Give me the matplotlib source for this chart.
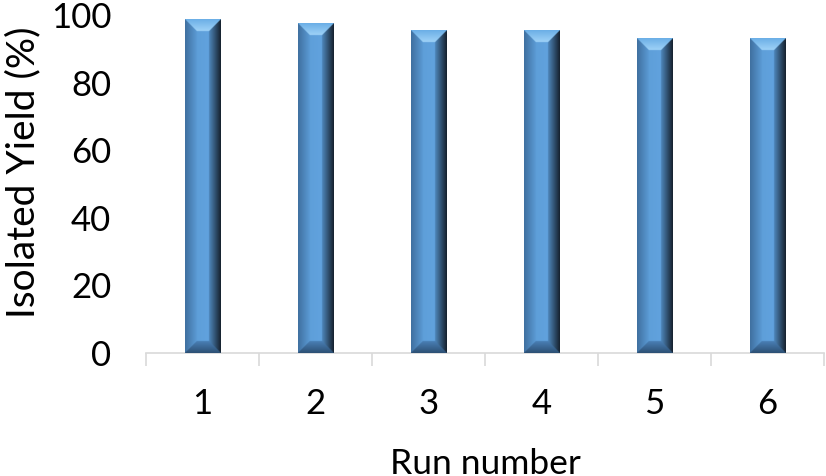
import numpy as np
import matplotlib
matplotlib.use('Agg')
from matplotlib import pyplot as plt
from matplotlib.colors import to_rgb

# Dados
runs = ['1', '2', '3', '4', '5', '6']
yield_pct = [98.7, 97.6, 95.5, 95.5, 93.2, 93.2]

plt.rcParams['font.family'] = ['Lato', 'DejaVu Sans']

fig = plt.figure(figsize=(8.26, 4.76), dpi=100)
ax = fig.add_axes([146 / 826, 123 / 476, 678 / 826, 337.5 / 476])

bar_w = 0.316
bevel = 12  # px
px_per_y = 337.5 / 100


def mix(c1, c2, t):
    c1 = np.array(to_rgb(c1))
    c2 = np.array(to_rgb(c2))
    t = np.clip(t, 0, 1)[..., None]
    return c1 * (1 - t) + c2 * t


def bevel_bar(h, scale=4):
    W = int(round(bar_w * 113)) * scale
    H = max(int(round(h * px_per_y)) * scale, 2)
    b = bevel * scale
    xx, yy = np.meshgrid(np.arange(W) + 0.5, np.arange(H) + 0.5)
    dl, dr, dt, db = xx, W - xx, yy, H - yy
    img = np.zeros((H, W, 3))
    # centro com leve gradiente horizontal
    img[:] = mix('#5b9bd5', '#64a6e2', xx / W)
    left = (dl < b)
    img[left] = mix('#3f6f9f', '#5b9bd5', dl / b)[left]
    right = (dr < b)
    img[right] = mix('#15202c', '#4f88bd', dr / b)[right]
    top = (dt < b) & (dt <= dl) & (dt <= dr)
    img[top] = mix('#6aaee6', '#9fd2f7', dt / b)[top]
    bot = (db < b) & (db <= dl) & (db <= dr)
    img[bot] = mix('#2c4f73', '#4a80b6', db / b)[bot]
    return img


x = np.arange(len(runs))
for xi, h in zip(x, yield_pct):
    ax.imshow(bevel_bar(h), extent=[xi - bar_w / 2, xi + bar_w / 2, 0, h],
              aspect='auto', interpolation='bilinear', zorder=3)

ax.set_xlim(-0.5, len(runs) - 0.5)
ax.set_ylim(0, 100)
ax.set_yticks([0, 20, 40, 60, 80, 100])
ax.set_xticks(x)
ax.set_xticklabels(runs)
ax.set_xticks(np.arange(len(runs) + 1) - 0.5, minor=True)

for s in ['top', 'right', 'left']:
    ax.spines[s].set_visible(False)
ax.spines['bottom'].set_color('#d9d9d9')
ax.spines['bottom'].set_linewidth(1.2)

ax.tick_params(axis='x', which='major', length=0, pad=25, labelsize=25)
ax.tick_params(axis='x', which='minor', length=9.5, width=1.2, color='#d9d9d9')
ax.tick_params(axis='y', length=0, pad=25, labelsize=25)

ax.set_xlabel('Run number', fontsize=25.5)
ax.xaxis.set_label_coords(0.5, -0.282)
ax.set_ylabel('Isolated Yield (%)', fontsize=28)
ax.yaxis.set_label_coords(-0.155, 0.535)

fig.savefig('out.png', dpi=100)
